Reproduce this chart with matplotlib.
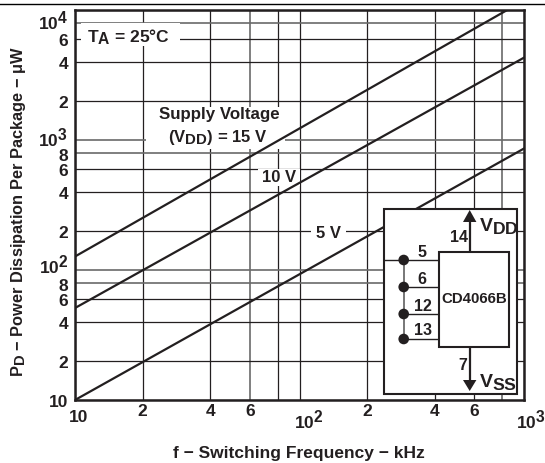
import matplotlib
matplotlib.use('Agg')
import matplotlib.pyplot as plt
import matplotlib._mathtext as mathtext_core
from matplotlib.patches import Rectangle, Circle, Polygon
from matplotlib.ticker import FixedLocator, NullFormatter
from matplotlib.transforms import Affine2D, ScaledTranslation

plt.rcParams['font.family'] = ['Liberation Sans', 'DejaVu Sans']
plt.rcParams['font.weight'] = 'bold'
plt.rcParams['mathtext.fontset'] = 'custom'
plt.rcParams['mathtext.rm'] = 'Liberation Sans:bold'
plt.rcParams['mathtext.bf'] = 'Liberation Sans:bold'
plt.rcParams['mathtext.default'] = 'rm'
mathtext_core.SHRINK_FACTOR = 0.9  # the datasheet sets sub/superscripts nearly full size

INK = '#231f20'
SOFT = '#6a6a6a'

freq_khz = [10, 1000]
power_5v = [10, 860]
power_10v = [51, 4300]
power_15v = [127, 11850]

x_ticks = [10, 20, 40, 60, 80, 100, 200, 400, 600, 800, 1000]
x_labels = ['10', '2', '4', '6', '', '$10^2$', '2', '4', '6', '', '$10^3$']
x_shift = [4, 0, 0, 0, 0, 9, 0, 0, 0, 0, 7]
x_drop = [6, 0, 0, 0, 0, 5, 0, 0, 0, 0, 5]
x_soft = [60, 800]

y_ticks = [10, 20, 40, 60, 80, 100, 200, 400, 600, 800, 1000, 2000, 4000, 6000, 8000, 10000]
y_labels = ['10', '2', '4', '6', '8', '$10^2$', '2', '4', '6', '8', '$10^3$', '2', '4', '6', '', '$10^4$']
y_shift = [0, 0, 0, 0, -1, 7, 0, 0, 0, -1, 4, 0, 0, 0, 0, -9]
y_soft = [80, 100, 800, 1000, 8000]

fig = plt.figure(figsize=(5.45, 4.64), dpi=100)
ax = fig.add_axes([75 / 545, 1 - 401 / 464, 449 / 545, 390 / 464])
ax.set_xscale('log')
ax.set_yscale('log')

# everything on the schematic is placed in image pixels
px = Affine2D().scale(1, -1).translate(0, 464)


def box(x0, y0, x1, y1, z=1, edge='none', lw=0):
    ax.add_patch(Rectangle((x0, y0), x1 - x0, y1 - y0, transform=px, facecolor='white',
                           edgecolor=edge, linewidth=lw, zorder=z, clip_on=False))


def label(x, y, s, size=11.5, z=6, ha='center'):
    ax.text(x, y, s, transform=px, fontsize=size, color=INK, ha=ha, va='center',
            zorder=z, clip_on=False)


def wire(xs, ys, lw=1.0, color=INK):
    ax.plot(xs, ys, transform=px, color=color, lw=lw, zorder=5, solid_capstyle='butt', clip_on=False)


for power in (power_5v, power_10v, power_15v):
    ax.plot(freq_khz, power, color=INK, lw=1.6, zorder=2)

ax.set_xlim(10, 1000)
ax.set_ylim(10, 10000)
ax.xaxis.set_major_locator(FixedLocator(x_ticks))
ax.yaxis.set_major_locator(FixedLocator(y_ticks))
ax.xaxis.set_minor_formatter(NullFormatter())
ax.yaxis.set_minor_formatter(NullFormatter())
ax.set_xticklabels(x_labels, fontsize=12.5)
ax.set_yticklabels(y_labels, fontsize=12.5)
ax.tick_params(which='both', length=0, colors=INK)
ax.tick_params(axis='x', pad=2)
ax.tick_params(axis='y', pad=5)
ax.grid(True, which='major', color=INK, lw=0.9)
ax.set_axisbelow(True)

# some grid lines came out washed and wider in the scan
for val, line in zip(x_ticks, ax.xaxis.get_gridlines()):
    if val in x_soft:
        line.set_color(SOFT)
        line.set_linewidth(1.2)
for val, line in zip(y_ticks, ax.yaxis.get_gridlines()):
    if val in y_soft:
        line.set_color(SOFT)
        line.set_linewidth(1.2)

for s in ax.spines.values():
    s.set_linewidth(1.8)
    s.set_color(INK)
    s.set_zorder(3)

for lab, dx, dy in zip(ax.get_xticklabels(), x_shift, x_drop):
    lab.set_transform(lab.get_transform() + ScaledTranslation(dx / 100, -dy / 100, fig.dpi_scale_trans))
for lab, dy in zip(ax.get_yticklabels(), y_shift):
    lab.set_transform(lab.get_transform() + ScaledTranslation(0, dy / 100, fig.dpi_scale_trans))

# white gaps in the grid behind the annotations
box(81, 24, 180, 47)
box(146, 108, 285, 150)
box(258, 170, 300, 187)
box(311, 226, 346, 243)

label(87, 37, r'T$_{\mathrm{A}}$ = 25°C', size=12.5, ha='left')
label(219, 115, 'Supply Voltage', size=12.2)
label(218, 138, r'(V$_{\mathrm{DD}}$) = 15 V', size=12)
label(279, 178, '10 V', size=12)
label(329, 234, '5 V', size=12)

ax.set_xlabel('f − Switching Frequency − kHz', fontsize=12.5, color=INK, fontweight='bold', va='center')
ax.xaxis.set_label_coords(224 / 449, -53 / 390)
ax.set_ylabel(r'P$_{\mathrm{D}}$ − Power Dissipation Per Package − μW', fontsize=11.8, color=INK,
              fontweight='bold', va='center')
ax.yaxis.set_label_coords(-56 / 449, 189 / 390)

# supply and pin schematic
box(384, 210, 517, 395, z=4, edge=INK, lw=1.5)
box(439, 253, 509, 348, z=5, edge=INK, lw=1.5)
wire([403.7, 403.7], [261, 340], lw=1.4, color='#777777')
for pin_y in (261, 288, 315, 340):
    wire([384 if pin_y == 261 else 403.7, 439], [pin_y, pin_y])
    ax.add_patch(Circle((403.7, pin_y), 5.3, transform=px, facecolor=INK, edgecolor='none',
                        zorder=6, clip_on=False))
wire([469.7, 469.7], [253, 220], lw=1.6)
wire([469.7, 469.7], [348, 383], lw=1.6)
ax.add_patch(Polygon([(469.7, 211), (463, 223), (476.4, 223)], transform=px, facecolor=INK,
                     edgecolor='none', zorder=6, clip_on=False))
ax.add_patch(Polygon([(469.7, 392), (463, 381), (476.4, 381)], transform=px, facecolor=INK,
                     edgecolor='none', zorder=6, clip_on=False))

label(422, 253, '5')
label(422, 280, '6')
label(423, 307, '12')
label(423, 331, '13')
label(459, 238, '14')
label(463, 366, '7')
label(474, 299, 'CD4066B', size=10.8)
label(479, 226, r'V$_{\mathrm{DD}}$', size=14, ha='left')
label(479, 382, r'V$_{\mathrm{SS}}$', size=14, ha='left')

# rule above the chart
fig.add_artist(plt.Line2D([0, 1], [1 - 4.5 / 464, 1 - 4.5 / 464], color='black', lw=1.0))

fig.savefig('out.png', dpi=100)
